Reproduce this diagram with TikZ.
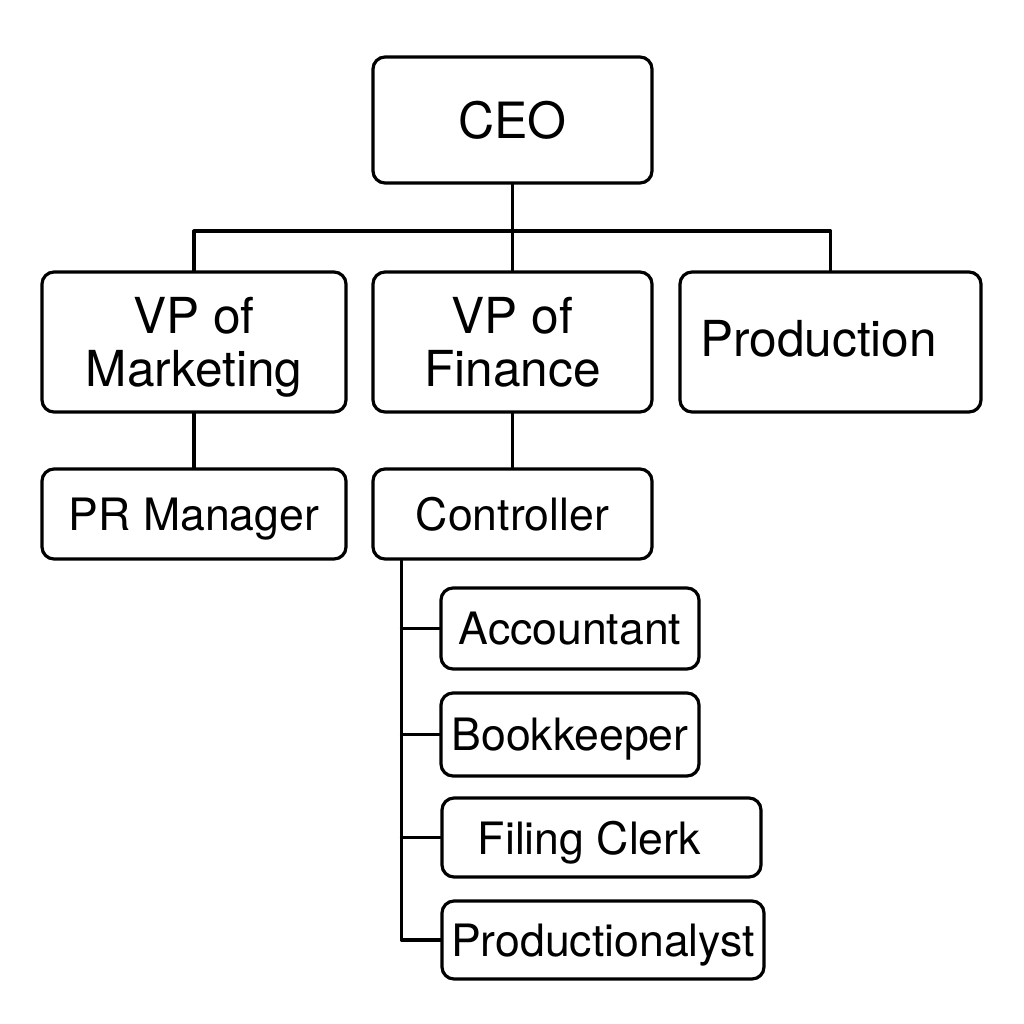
\documentclass[tikz,border=0pt]{standalone}
\usepackage{fontspec}
\setmainfont{TeX Gyre Heros}
\begin{document}
\begin{tikzpicture}[x=0.5pt, y=-0.5pt, line width=1.6pt, line join=round, line cap=round,
	box/.style={draw, rounded corners=6pt, inner sep=2pt, align=center},
	big/.style={font=\fontsize{25}{28}\selectfont},
	mid/.style={font=\fontsize{24.8}{26.5}\selectfont, text depth=0pt},
	small/.style={font=\fontsize{22.3}{24}\selectfont, text depth=0pt}]
	\useasboundingbox (0,0) rectangle (1024,1024);
	% top levels
	\node[box, big, minimum width=139.5pt, minimum height=63pt] (ceo) at (512.5,120) {CEO};
	\node[box, mid, minimum width=152pt, minimum height=70pt] (vpm) at (194,342) {VP of\\Marketing};
	\node[box, mid, minimum width=139.5pt, minimum height=70pt] (vpf) at (512.5,342) {VP of\\Finance};
	\node[box, mid, minimum width=150.5pt, minimum height=70pt, text depth=4pt] (prod) at (830.5,342) {Production\hspace{12pt}};
	\node[box, small, minimum width=152pt, minimum height=45pt] (pr) at (194,514) {PR Manager};
	\node[box, small, minimum width=139.5pt, minimum height=45pt] (ctrl) at (512.5,514) {Controller};
	% finance staff
	\node[box, small, minimum width=129pt, minimum height=40.5pt] (acc) at (570,628.5) {Accountant};
	\node[box, small, minimum width=129pt, minimum height=41.5pt] (book) at (570,734.5) {Bookkeeper};
	\node[box, small, minimum width=159.5pt, minimum height=39.5pt] (file) at (601.5,837.5) {Filing Clerk\hspace{12pt}};
	\node[box, small, minimum width=161pt, minimum height=39pt] (pa) at (603,940) {Productionalyst};
	\coordinate (bus) at (512.5,231);
	\coordinate (trunk) at ([xshift=15pt]ctrl.south west);
	\draw (ceo.south)--(vpf.north);
	\draw (vpm.north) |- (bus) -| (prod.north);
	\draw (vpm)--(pr);
	\draw (vpf)--(ctrl);
	\draw (trunk) |- (pa.west);
	\foreach \n in {acc,book,file} \draw (trunk |- \n.west)--(\n.west);
\end{tikzpicture}
\end{document}
